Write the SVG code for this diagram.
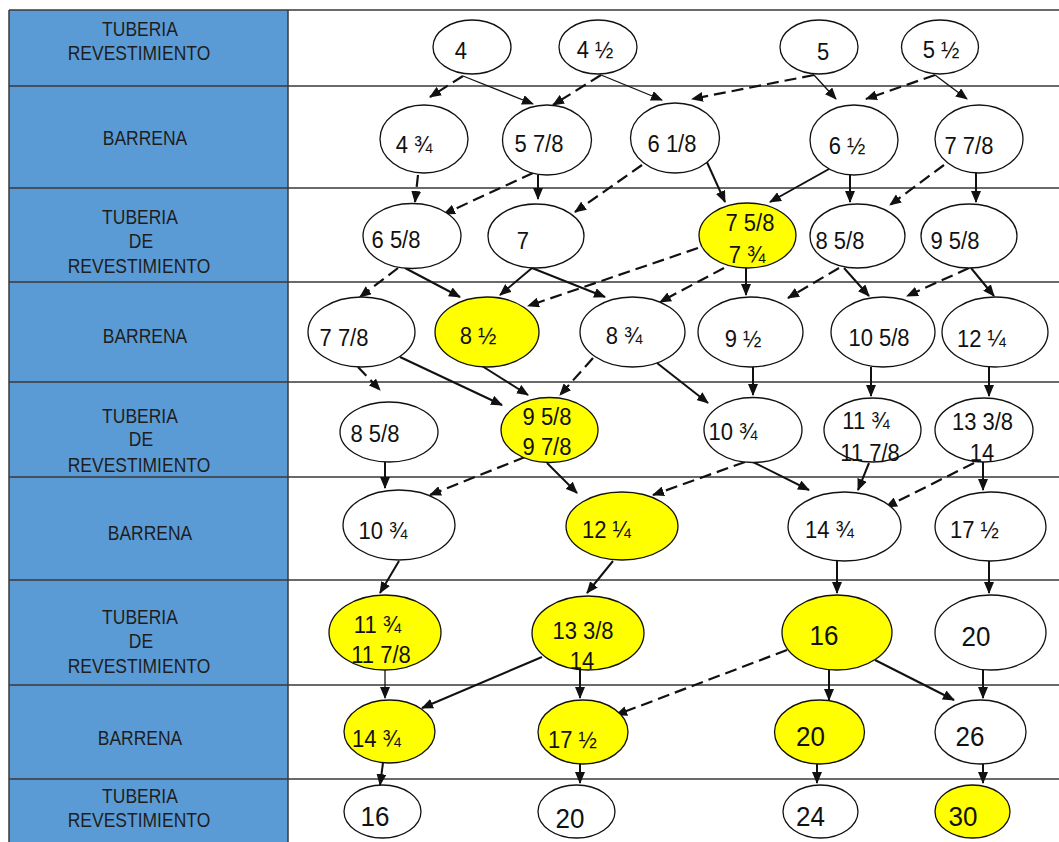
<svg xmlns="http://www.w3.org/2000/svg" width="1059" height="842" viewBox="0 0 1059 842">
<style>
.bg{fill:#ffffff}
.cell{fill:#5B9BD5}
.grid{stroke:#3a3a3a;stroke-width:1.5;fill:none}
.lbl{font-family:"Liberation Sans",Arial,sans-serif;font-size:17.5px;fill:#1e1e1e;text-anchor:middle;transform-box:fill-box;transform-origin:center;transform:scaleY(1.12)}
.w{fill:#ffffff;stroke:#111;stroke-width:1.3}
.y{fill:#FFFF00;stroke:#111;stroke-width:1.3}
.t{font-family:"Liberation Sans",Arial,sans-serif;font-size:22px;fill:#111;text-anchor:middle;transform-box:fill-box;transform-origin:center;transform:scaleY(1.07)}
.b{font-size:26px}
.s{stroke:#111;stroke-width:2;fill:none;marker-end:url(#ah)}
.n{stroke:#111;stroke-width:1.3;fill:none;marker-end:url(#ah)}
.d{stroke:#111;stroke-width:2.2;fill:none;stroke-dasharray:12 6;marker-end:url(#ah)}
</style>
<defs>
<marker id="ah" markerUnits="userSpaceOnUse" markerWidth="12" markerHeight="10" refX="11" refY="5" orient="auto">
<path d="M0,0 L12,5 L0,10 z" fill="#111"/>
</marker>
</defs>
<rect class="bg" x="0" y="0" width="1059" height="842"/>
<g id="table">
<rect class="cell" x="9" y="10" width="279" height="832"/>
<path class="grid" d="M9,10H1059M9,86H1059M9,188H1059M9,282H1059M9,382H1059M9,477H1059M9,580H1059M9,685H1059M9,779H1059M9,10V842M288,10V842"/>
</g>
<g id="labels">
<text class="lbl" x="140" y="35">TUBERIA</text>
<text class="lbl" x="139" y="59">REVESTIMIENTO</text>
<text class="lbl" x="145" y="144">BARRENA</text>
<text class="lbl" x="140" y="223">TUBERIA</text>
<text class="lbl" x="141" y="247">DE</text>
<text class="lbl" x="139" y="272">REVESTIMIENTO</text>
<text class="lbl" x="145" y="342">BARRENA</text>
<text class="lbl" x="140" y="422">TUBERIA</text>
<text class="lbl" x="141" y="445">DE</text>
<text class="lbl" x="139" y="471">REVESTIMIENTO</text>
<text class="lbl" x="150" y="539">BARRENA</text>
<text class="lbl" x="140" y="623">TUBERIA</text>
<text class="lbl" x="141" y="647">DE</text>
<text class="lbl" x="139" y="672">REVESTIMIENTO</text>
<text class="lbl" x="140" y="744">BARRENA</text>
<text class="lbl" x="140" y="802">TUBERIA</text>
<text class="lbl" x="139" y="826">REVESTIMIENTO</text>
</g>
<g id="connectors">
<path class="d" d="M463,76L430,97"/>
<path class="n" d="M463,76L533,104"/>
<path class="d" d="M601,75L553,105"/>
<path class="n" d="M601,75L662,100"/>
<path class="d" d="M814,75L692,99"/>
<path class="n" d="M814,75L836,99"/>
<path class="d" d="M935,75L866,99"/>
<path class="n" d="M935,75L967,99"/>
<path class="d" d="M418,175L415,202"/>
<path class="d" d="M533,173L444,214"/>
<path class="s" d="M538,175L538,199"/>
<path class="d" d="M642,165L575,212"/>
<path class="s" d="M706,160L725,202"/>
<path class="s" d="M829,169L770,202"/>
<path class="s" d="M850,175L850,202"/>
<path class="d" d="M944,165L890,205"/>
<path class="s" d="M976,173L976,202"/>
<path class="d" d="M398,268L360,297"/>
<path class="s" d="M405,268L460,297"/>
<path class="s" d="M532,268L500,295"/>
<path class="s" d="M532,268L605,297"/>
<path class="d" d="M698,248L528,306"/>
<path class="d" d="M724,268L660,302"/>
<path class="s" d="M746,268L746,295"/>
<path class="d" d="M839,268L788,298"/>
<path class="s" d="M844,268L869,296"/>
<path class="d" d="M969,268L907,296"/>
<path class="s" d="M971,268L994,296"/>
<path class="d" d="M358,367L380,390"/>
<path class="s" d="M400,357L502,405"/>
<path class="s" d="M482,366L528,395"/>
<path class="d" d="M593,358L560,395"/>
<path class="s" d="M657,363L708,403"/>
<path class="s" d="M753,367L753,395"/>
<path class="s" d="M871,367L871,396"/>
<path class="s" d="M989,367L989,396"/>
<path class="s" d="M385,462L385,488"/>
<path class="d" d="M525,457L430,495"/>
<path class="s" d="M547,463L577,493"/>
<path class="d" d="M745,462L653,495"/>
<path class="s" d="M753,462L809,490"/>
<path class="s" d="M869,463L858,490"/>
<path class="d" d="M974,463L886,507"/>
<path class="s" d="M983,462L983,490"/>
<path class="s" d="M399,561L380,593"/>
<path class="s" d="M613,561L587,593"/>
<path class="s" d="M837,561L837,593"/>
<path class="s" d="M989,561L989,593"/>
<path class="n" d="M385,670L385,698"/>
<path class="s" d="M542,657L422,708"/>
<path class="s" d="M580,670L580,698"/>
<path class="d" d="M787,650L616,715"/>
<path class="s" d="M829,670L829,700"/>
<path class="s" d="M875,660L954,700"/>
<path class="s" d="M983,670L983,698"/>
<path class="s" d="M383,763L380,785"/>
<path class="s" d="M580,758L580,783"/>
<path class="s" d="M817,763L817,783"/>
<path class="s" d="M983,763L983,783"/>
</g>
<g id="n4"><ellipse class="w" cx="472" cy="47" rx="39" ry="27"/><text class="t" x="461" y="58">4</text></g>
<g id="n4h"><ellipse class="w" cx="598" cy="47" rx="39" ry="27"/><text class="t" x="595" y="57">4 ½</text></g>
<g id="n5"><ellipse class="w" cx="819" cy="47" rx="39" ry="27"/><text class="t" x="823" y="59">5</text></g>
<g id="n5h"><ellipse class="w" cx="940" cy="47" rx="38.5" ry="27"/><text class="t" x="941" y="57">5 ½</text></g>
<g id="n4t"><ellipse class="w" cx="424" cy="139" rx="44" ry="34"/><text class="t" x="414" y="152">4 ¾</text></g>
<g id="n578"><ellipse class="w" cx="547" cy="140" rx="44.5" ry="35"/><text class="t" x="539" y="151">5 7/8</text></g>
<g id="n618"><ellipse class="w" cx="675" cy="138" rx="44.5" ry="35"/><text class="t" x="672" y="151">6 1/8</text></g>
<g id="n6h"><ellipse class="w" cx="854" cy="140" rx="44" ry="35"/><text class="t" x="847" y="153">6 ½</text></g>
<g id="n778a"><ellipse class="w" cx="979" cy="139" rx="44" ry="34"/><text class="t" x="969" y="153">7 7/8</text></g>
<g id="n658"><ellipse class="w" cx="412" cy="236" rx="49" ry="32.5"/><text class="t" x="396" y="247">6 5/8</text></g>
<g id="n7"><ellipse class="w" cx="536" cy="236" rx="48" ry="32"/><text class="t" x="523" y="248">7</text></g>
<g id="n758"><ellipse class="y" cx="747.5" cy="235.5" rx="48.5" ry="32.5"/><text class="t" x="750" y="230">7 5/8</text><text class="t" x="747" y="262">7 ¾</text></g>
<g id="n858a"><ellipse class="w" cx="857.5" cy="236" rx="47.5" ry="32"/><text class="t" x="840" y="248">8 5/8</text></g>
<g id="n958a"><ellipse class="w" cx="969" cy="236" rx="48" ry="32"/><text class="t" x="955" y="248">9 5/8</text></g>
<g id="n778b"><ellipse class="w" cx="361.5" cy="332" rx="53.5" ry="35"/><text class="t" x="344" y="345">7 7/8</text></g>
<g id="n8h"><ellipse class="y" cx="487" cy="332" rx="52" ry="35"/><text class="t" x="478" y="343">8 ½</text></g>
<g id="n8t"><ellipse class="w" cx="632.5" cy="332" rx="52.5" ry="35"/><text class="t" x="624" y="343">8 ¾</text></g>
<g id="n9h"><ellipse class="w" cx="750.5" cy="332" rx="52.5" ry="35"/><text class="t" x="743" y="346">9 ½</text></g>
<g id="n1058"><ellipse class="w" cx="883" cy="332" rx="52" ry="35"/><text class="t" x="879" y="345">10 5/8</text></g>
<g id="n12q"><ellipse class="w" cx="995" cy="332" rx="53" ry="35"/><text class="t" x="981.5" y="346">12 ¼</text></g>
<g id="n858b"><ellipse class="w" cx="389" cy="432" rx="49" ry="30"/><text class="t" x="375" y="441">8 5/8</text></g>
<g id="n958b"><ellipse class="y" cx="549.5" cy="430" rx="48.5" ry="32.5"/><text class="t" x="547" y="424">9 5/8</text><text class="t" x="547" y="454">9 7/8</text></g>
<g id="n10t"><ellipse class="w" cx="753" cy="430" rx="49" ry="32.5"/><text class="t" x="733" y="439">10 ¾</text></g>
<g id="n11t"><ellipse class="w" cx="872.5" cy="430" rx="48.5" ry="32"/><text class="t" x="866" y="428">11 ¾</text><text class="t" x="870" y="460">11 7/8</text></g>
<g id="n1338"><ellipse class="w" cx="984" cy="430" rx="49" ry="32"/><text class="t" x="982.5" y="429">13 3/8</text><text class="t" x="982" y="460">14</text></g>
<g id="n10tb"><ellipse class="w" cx="399" cy="525" rx="56" ry="35"/><text class="t" x="383" y="538">10 ¾</text></g>
<g id="n12qb"><ellipse class="y" cx="622" cy="526" rx="56" ry="34"/><text class="t" x="606.5" y="537">12 ¼</text></g>
<g id="n14t"><ellipse class="w" cx="844.5" cy="526.5" rx="56.5" ry="34.5"/><text class="t" x="829.5" y="537">14 ¾</text></g>
<g id="n17h"><ellipse class="w" cx="990.5" cy="526.5" rx="55.5" ry="34.5"/><text class="t" x="974.5" y="537">17 ½</text></g>
<g id="n11tb"><ellipse class="y" cx="385" cy="632.5" rx="56" ry="37.5"/><text class="t" x="377.5" y="632">11 ¾</text><text class="t" x="381" y="662">11 7/8</text></g>
<g id="n1338b"><ellipse class="y" cx="588" cy="633" rx="56" ry="37"/><text class="t" x="583" y="638">13 3/8</text><text class="t" x="582" y="668">14</text></g>
<g id="n16"><ellipse class="y" cx="837" cy="632.5" rx="55" ry="37.5"/><text class="t b" x="824" y="644">16</text></g>
<g id="n20"><ellipse class="w" cx="990.5" cy="632.5" rx="55.5" ry="37.5"/><text class="t b" x="976" y="645">20</text></g>
<g id="n14tb"><ellipse class="y" cx="389.5" cy="731.5" rx="45.5" ry="31.5"/><text class="t" x="376.5" y="746">14 ¾</text></g>
<g id="n17hb"><ellipse class="y" cx="583" cy="732" rx="45" ry="32"/><text class="t" x="572.5" y="747">17 ½</text></g>
<g id="n20b"><ellipse class="y" cx="819.5" cy="732" rx="45" ry="32"/><text class="t b" x="810.5" y="745">20</text></g>
<g id="n26"><ellipse class="w" cx="980.5" cy="732" rx="45.5" ry="32"/><text class="t b" x="970" y="745">26</text></g>
<g id="n16b"><ellipse class="w" cx="382.5" cy="811.5" rx="38.5" ry="26.5"/><text class="t b" x="375" y="825">16</text></g>
<g id="n20c"><ellipse class="w" cx="576.5" cy="811.5" rx="38.5" ry="26.5"/><text class="t b" x="570" y="827">20</text></g>
<g id="n24"><ellipse class="w" cx="820.5" cy="811.5" rx="37.5" ry="26.5"/><text class="t b" x="810.5" y="825">24</text></g>
<g id="n30"><ellipse class="y" cx="972.5" cy="811.5" rx="37.5" ry="26.5"/><text class="t b" x="963" y="825">30</text></g>
</svg>
